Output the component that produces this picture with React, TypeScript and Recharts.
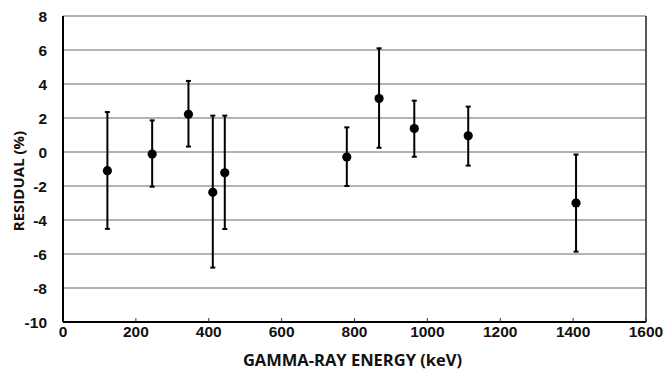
import React from 'react';
import { ScatterChart, Scatter, XAxis, YAxis, CartesianGrid, ErrorBar, ReferenceLine } from 'recharts';

const energies = [121.8, 244.7, 344.3, 411.1, 444.0, 778.9, 867.4, 964.1, 1112.1, 1408.0];
const residuals = [-1.1, -0.12, 2.22, -2.37, -1.22, -0.3, 3.14, 1.38, 0.95, -3.0];
const upperBounds = [2.35, 1.86, 4.18, 2.14, 2.14, 1.45, 6.1, 3.02, 2.67, -0.15];
const lowerBounds = [-4.52, -2.04, 0.32, -6.8, -4.53, -2.0, 0.25, -0.28, -0.8, -5.86];
const xTicks = [0, 200, 400, 600, 800, 1000, 1200, 1400, 1600];
const yTicks = [-10, -8, -6, -4, -2, 0, 2, 4, 6, 8];

const data = energies.map((e, i) => ({
  x: e,
  y: residuals[i],
  err: [residuals[i] - lowerBounds[i], upperBounds[i] - residuals[i]],
}));

const tickStyle = { fontFamily: '"Liberation Sans", Arial, sans-serif', fontWeight: 700, fontSize: 15.5, fill: '#111' };
const xTitleStyle = { fontFamily: '"Open Sans", sans-serif', fontWeight: 700, fontSize: 16.5, fill: '#111' };
const yTitleStyle = { fontFamily: '"Open Sans", sans-serif', fontWeight: 700, fontSize: 15, fill: '#111' };

const Dot = (props: any) => <circle cx={props.cx} cy={props.cy} r={4.6} fill="#000" />;

export default function App() {
  return (
    <div style={{ position: 'absolute', left: 0, top: 0, background: '#fff' }}>
      <ScatterChart width={665} height={370} margin={{ top: 16, right: 19, bottom: 0, left: 0 }}>
        <CartesianGrid vertical={false} stroke="#9a9a9a" strokeWidth={1.5} />
        <XAxis
          type="number"
          dataKey="x"
          domain={[0, 1600]}
          ticks={xTicks}
          interval={0}
          height={48}
          tickSize={-4}
          tickMargin={8}
          tickLine={{ stroke: '#333', strokeWidth: 1 }}
          axisLine={{ stroke: '#000', strokeWidth: 2 }}
          tick={tickStyle}
          label={{ value: 'GAMMA-RAY ENERGY (keV)', position: 'insideBottom', offset: 4, dx: -2, style: xTitleStyle }}
        />
        <YAxis
          type="number"
          dataKey="y"
          domain={[-10, 8]}
          ticks={yTicks}
          interval={0}
          width={63}
          tickLine={false}
          tickMargin={10}
          axisLine={{ stroke: '#000', strokeWidth: 2 }}
          tick={tickStyle}
          label={{ value: 'RESIDUAL (%)', angle: -90, position: 'center', dx: -13, dy: 12, style: yTitleStyle }}
        />
        <ReferenceLine x={1600} stroke="#222" strokeWidth={1.5} />
        <Scatter data={data} shape={<Dot />} isAnimationActive={false}>
          <ErrorBar dataKey="err" direction="y" width={2.5} stroke="#000" strokeWidth={2} isAnimationActive={false} />
        </Scatter>
      </ScatterChart>
    </div>
  );
}
